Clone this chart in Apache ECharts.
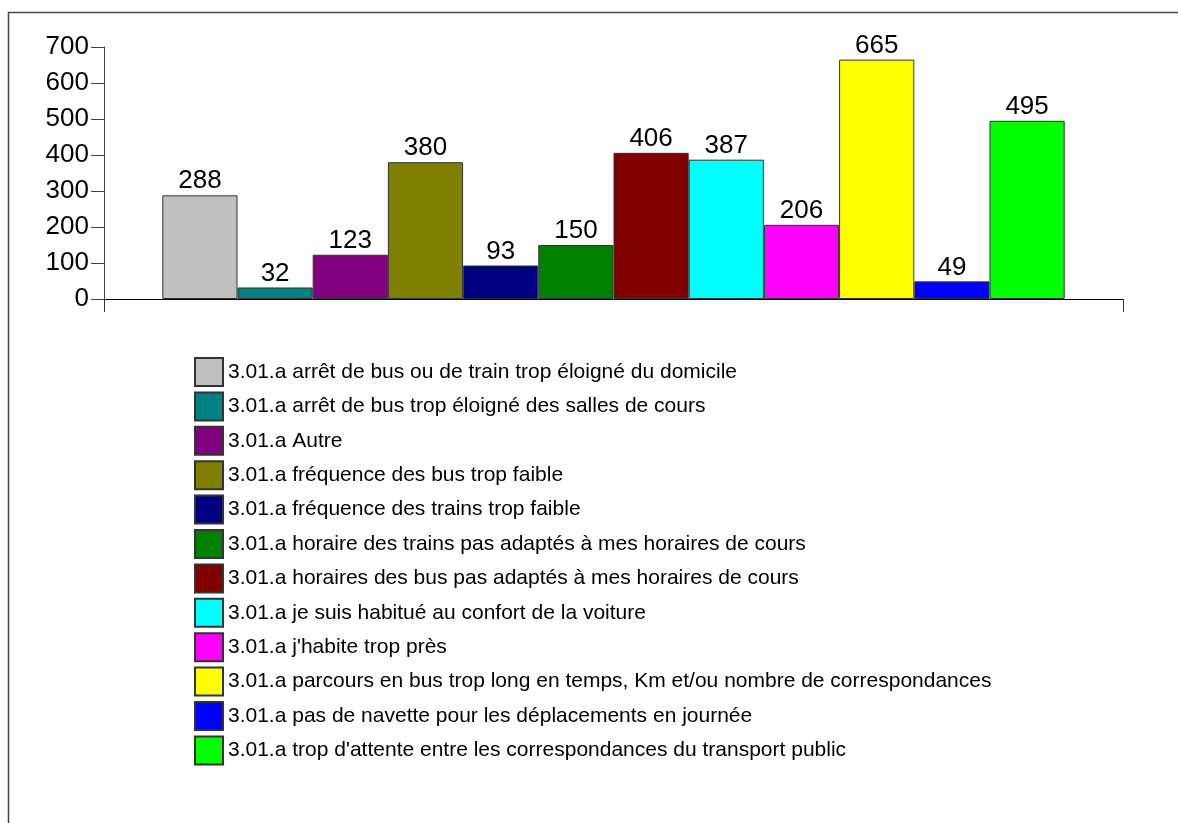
<!DOCTYPE html>
<html>
<head>
<meta charset="utf-8">
<script src="https://cdn.jsdelivr.net/npm/echarts@6/dist/echarts.min.js"></script>
<style>
  html, body { margin: 0; padding: 0; background: #fff; }
  #chart { width: 1178px; height: 823px; }
</style>
</head>
<body>
<div id="chart"></div>
<script>
// Reasons given for not using public transport (answer counts)
const categories = [
  "3.01.a arrêt de bus ou de train trop éloigné du domicile",
  "3.01.a arrêt de bus trop éloigné des salles de cours",
  "3.01.a Autre",
  "3.01.a fréquence des bus trop faible",
  "3.01.a fréquence des trains trop faible",
  "3.01.a horaire des trains pas adaptés à mes horaires de cours",
  "3.01.a horaires des bus pas adaptés à mes horaires de cours",
  "3.01.a je suis habitué au confort de la voiture",
  "3.01.a j'habite trop près",
  "3.01.a parcours en bus trop long en temps, Km et/ou nombre de correspondances",
  "3.01.a pas de navette pour les déplacements en journée",
  "3.01.a trop d'attente entre les correspondances du transport public"
];
const values = [288, 32, 123, 380, 93, 150, 406, 387, 206, 665, 49, 495];
const colors = [
  "#C0C0C0", "#008080", "#800080", "#808000", "#000080", "#008000",
  "#800000", "#00FFFF", "#FF00FF", "#FFFF00", "#0000FF", "#00FF00"
];
const yTicks = [0, 100, 200, 300, 400, 500, 600, 700];

const FONT = "'Liberation Sans', Arial, sans-serif";

const chart = echarts.init(document.getElementById('chart'), null, { renderer: 'canvas' });

const series = categories.map((name, i) => ({
  name: name,
  type: 'bar',
  data: [values[i]],
  barWidth: 75.2,
  barGap: '0%',
  itemStyle: { color: colors[i], borderColor: '#333', borderWidth: 1 },
  label: {
    show: true,
    position: 'top',
    distance: 1,
    color: '#000',
    fontFamily: FONT,
    fontSize: 26
  },
  emphasis: { disabled: true }
}));

chart.setOption({
  animation: false,
  backgroundColor: '#fff',
  grid: { left: 104, right: 55, top: 47, bottom: 524, containLabel: false },
  xAxis: {
    type: 'category',
    data: [''],
    boundaryGap: true,
    axisLine: { show: true, lineStyle: { color: '#000', width: 1 } },
    axisTick: { show: true, length: 13, lineStyle: { color: '#333' } },
    axisLabel: { show: false },
    splitLine: { show: false }
  },
  yAxis: {
    type: 'value',
    min: yTicks[0],
    max: yTicks[yTicks.length - 1],
    interval: 100,
    axisLine: { show: true, lineStyle: { color: '#444', width: 1 } },
    axisTick: { show: true, length: 13, lineStyle: { color: '#444' } },
    axisLabel: { color: '#000', fontFamily: FONT, fontSize: 26, margin: 15 },
    splitLine: { show: false }
  },
  legend: {
    orient: 'vertical',
    left: 189,
    top: 352,
    itemWidth: 28,
    itemHeight: 28,
    itemGap: 4.4,
    icon: 'rect',
    selectedMode: false,
    textStyle: { color: '#000', fontFamily: FONT, fontSize: 21 },
    data: categories
  },
  graphic: [
    // outer frame: top and left edges
    {
      type: 'polyline',
      shape: { points: [[8.5, 823], [8.5, 12.5], [1178, 12.5]] },
      style: { stroke: '#444', lineWidth: 1.5, fill: null },
      silent: true
    }
  ],
  series: series
});
</script>
</body>
</html>
